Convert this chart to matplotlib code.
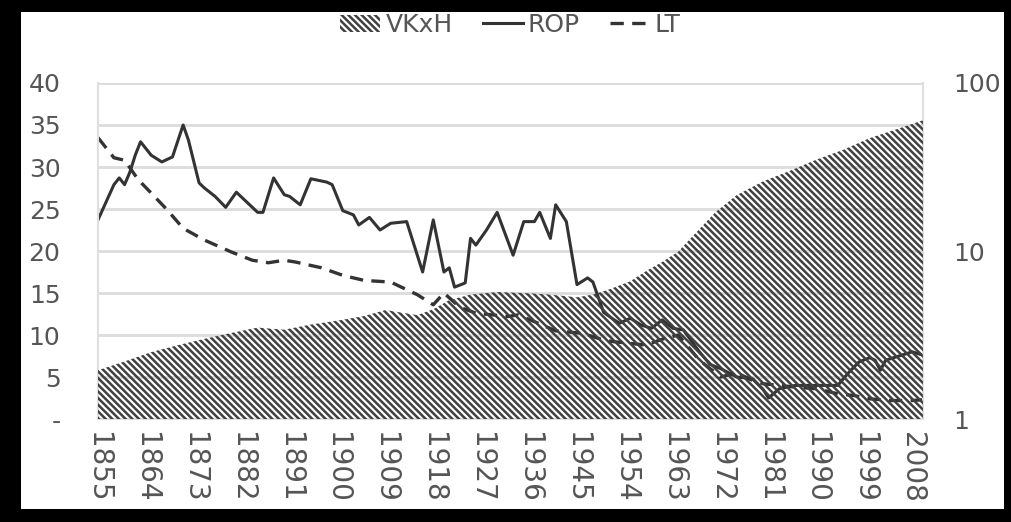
import matplotlib
matplotlib.use("Agg")
from matplotlib import pyplot as plt
from matplotlib.patches import Rectangle, Patch
from matplotlib.lines import Line2D
from matplotlib.ticker import NullLocator

# ROP (left axis)
rop_years = [1855, 1857, 1858, 1859, 1860, 1861, 1862, 1863, 1865, 1867, 1869, 1871,
             1872, 1874, 1875, 1877, 1879, 1881, 1883, 1885, 1886, 1888, 1890, 1891,
             1893, 1895, 1898, 1899, 1901, 1903, 1904, 1906, 1908, 1910, 1913, 1916,
             1918, 1920, 1921, 1922, 1924, 1925, 1926, 1928, 1930, 1933, 1935, 1937,
             1938, 1940, 1941, 1943, 1945, 1947, 1948, 1950, 1952, 1953, 1955, 1957,
             1959, 1961, 1963, 1965, 1968, 1970, 1972, 1975, 1978, 1980, 1981, 1983,
             1986, 1990, 1994, 1996, 1998, 2000, 2001, 2002, 2003, 2005, 2008, 2010]
rop = [23.7, 26.5, 27.9, 28.7, 27.9, 29.4, 31.4, 33.0, 31.4, 30.6, 31.2, 35.0,
       33.2, 28.1, 27.5, 26.5, 25.2, 27.0, 25.8, 24.6, 24.6, 28.7, 26.7, 26.5,
       25.5, 28.6, 28.2, 27.9, 24.8, 24.3, 23.1, 24.0, 22.5, 23.3, 23.5, 17.5,
       23.7, 17.5, 18.0, 15.7, 16.2, 21.5, 20.7, 22.5, 24.6, 19.5, 23.5, 23.5,
       24.6, 21.5, 25.5, 23.5, 16.0, 16.8, 16.3, 12.7, 11.8, 11.4, 12.0, 11.2,
       10.8, 11.8, 10.8, 10.6, 8.0, 6.5, 6.0, 5.0, 4.8, 3.5, 2.5, 3.6,
       4.0, 4.0, 4.0, 5.5, 6.8, 7.3, 7.0, 5.8, 7.0, 7.4, 8.0, 7.6]

# LT (left axis)
lt_years = [1855, 1858, 1860, 1862, 1863, 1865, 1868, 1871, 1875, 1880, 1884, 1887,
            1890, 1892, 1897, 1901, 1905, 1910, 1915, 1918, 1920, 1923, 1926, 1932,
            1934, 1941, 1946, 1950, 1952, 1958, 1961, 1964, 1966, 1968, 1970, 1972,
            1975, 1978, 1980, 1983, 1986, 1990, 1994, 1997, 2000, 2004, 2008, 2010]
lt = [33.5, 31.1, 30.8, 29.0, 28.2, 26.9, 24.9, 22.7, 21.3, 19.9, 18.9, 18.6,
      18.9, 18.7, 18.0, 17.1, 16.5, 16.3, 14.8, 13.6, 15.0, 13.3, 12.6, 12.2,
      12.4, 10.5, 10.2, 9.4, 9.2, 8.8, 9.5, 10.0, 8.5, 7.0, 6.0, 5.0,
      5.5, 4.6, 4.2, 4.0, 3.8, 3.6, 3.0, 2.8, 2.4, 2.2, 2.2, 2.3]

# VKxH (right log axis)
vk_years = [1855, 1860, 1865, 1870, 1875, 1880, 1885, 1890, 1895, 1900, 1905, 1909,
            1912, 1915, 1918, 1921, 1925, 1930, 1936, 1940, 1945, 1948, 1951, 1955,
            1958, 1961, 1964, 1967, 1971, 1975, 1980, 1985, 1990, 1995, 2000, 2005, 2010]
vk = [1.95, 2.2, 2.5, 2.75, 3.0, 3.25, 3.5, 3.4, 3.65, 3.85, 4.1, 4.45,
      4.3, 4.15, 4.5, 5.1, 5.5, 5.7, 5.6, 5.5, 5.3, 5.5, 5.9, 6.6,
      7.6, 8.6, 9.9, 12.5, 17.0, 21.5, 26.0, 30.0, 35.0, 40.0, 47.0, 53.0, 60.0]

x_ticks = list(range(1855, 2009, 9))
left_ticks = [0, 5, 10, 15, 20, 25, 30, 35, 40]
left_labels = ["-", "5", "10", "15", "20", "25", "30", "35", "40"]
right_ticks = [1, 10, 100]
right_labels = ["1", "10", "100"]

plt.rcParams["font.family"] = "DejaVu Sans"
plt.rcParams["hatch.linewidth"] = 1.8

line_col = "#333333"
hatch_col = "#404040"
text_col = "#555555"
HATCH = "\\" * 5

fig = plt.figure(figsize=(10.11, 5.22), dpi=100)
fig.patch.set_facecolor("black")
fig.patches.append(Rectangle((0.021, 0.025), 0.972, 0.952, transform=fig.transFigure,
                             facecolor="white", edgecolor="none", zorder=-1))

ax = fig.add_axes([0.0969, 0.1973, 0.816, 0.6437])
ax.plot(rop_years, rop, color=line_col, lw=2.2)
ax.plot(lt_years, lt, color=line_col, lw=2.4, linestyle=(0, (4, 2.5)))
ax.set_xlim(1855, 2010)
ax.set_ylim(0, 40)
ax.set_yticks(left_ticks, left_labels)
ax.set_xticks(x_ticks, [str(y) for y in x_ticks], rotation=270)
ax.grid(axis="y", color="#dcdcdc", lw=2)
ax.set_axisbelow(True)
ax.spines["top"].set_visible(False)
for s in ["left", "right", "bottom"]:
    ax.spines[s].set_color("#e0e0e0")
    ax.spines[s].set_linewidth(1.5)
ax.tick_params(axis="x", length=0, labelsize=20, pad=9, colors=text_col)
ax.tick_params(axis="y", length=0, labelsize=18, pad=27, colors=text_col)

ax2 = ax.twinx()
ax2.set_yscale("log")
ax2.set_ylim(1, 100)
ax2.fill_between(vk_years, 1, vk, facecolor="none", edgecolor=hatch_col,
                 hatch=HATCH, linewidth=0)
ax2.set_yticks(right_ticks, right_labels)
ax2.yaxis.set_minor_locator(NullLocator())
ax2.tick_params(axis="y", length=0, labelsize=18, pad=22, colors=text_col)
for s in ax2.spines.values():
    s.set_visible(False)

handles = [
    Patch(facecolor="none", edgecolor=hatch_col, hatch=HATCH, linewidth=0),
    Line2D([], [], color=line_col, lw=2.2),
    Line2D([], [], color=line_col, lw=2.4, linestyle=(0, (4, 2.5))),
]
fig.legend(handles, ["VKxH", "ROP", "LT"], loc="center", bbox_to_anchor=(0.505, 0.952),
           ncol=3, frameon=False, fontsize=18, handlelength=1.6, handletextpad=0.2,
           columnspacing=1.2, labelcolor=text_col)

fig.savefig("out.png", dpi=100, facecolor=fig.get_facecolor())
